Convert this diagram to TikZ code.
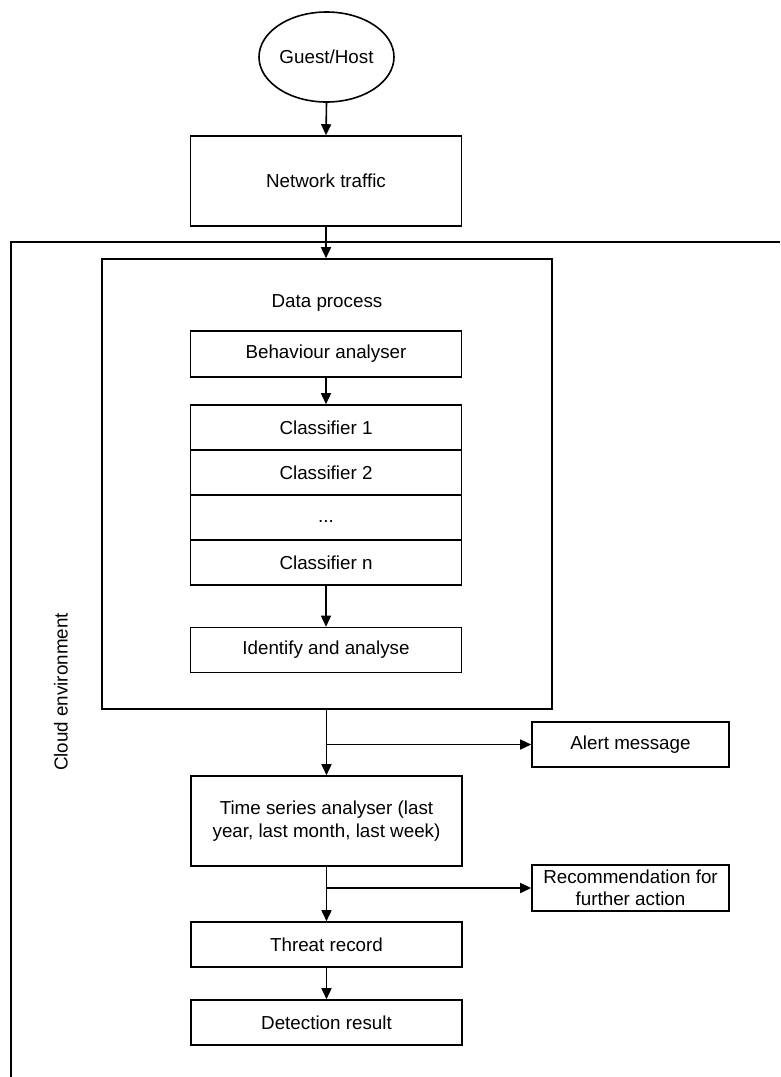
\documentclass[tikz,border=0pt]{standalone}
\usepackage{fontspec}
\setmainfont{Liberation Sans}
\usetikzlibrary{arrows.meta,shapes.geometric}
\begin{document}
\begin{tikzpicture}[x=1pt,y=-1pt,
  line width=1.6pt,
  every node/.style={font=\fontsize{18.8}{22.5}\selectfont, inner sep=0pt},
  box/.style={draw, rectangle, minimum width=271pt, minimum height=45pt, align=center},
  sidebox/.style={draw, rectangle, minimum width=197pt, minimum height=45pt, align=center},
  arr/.style={-{Triangle[length=11pt,width=10pt]}}
]
\useasboundingbox (0,0) rectangle (780,1077);
% cloud environment frame
\coordinate (fr) at (780,242);
\coordinate (fc) at (11,242);
\coordinate (fb) at (11,1077);
\draw (fr) -- (fc) -- (fb);
\node[rotate=90] (cloud) at (61,692) {Cloud environment};

\node[draw, ellipse, minimum width=135pt, minimum height=90pt] (guest) at (326.5,57) {Guest/Host};
\node[box, minimum height=90pt] (net) at (326,181) {Network traffic};

\node[draw, rectangle, minimum width=450pt, minimum height=450pt] (dp) at (327,484) {};
\node (dplabel) at (327,303) {Data process};
\node[box, minimum height=46pt] (beh) at (326,354) {Behaviour analyser};
\node[box] (c1) at (326,427.5) {Classifier 1};
\node[box] (c2) at (326,472.5) {Classifier 2};
\node[box] (cd) at (326,517.5) {\strut...};
\node[box] (cn) at (326,562.5) {Classifier n};
\node[box] (ident) at (326,650) {Identify and analyse};

\node[sidebox] (alert) at (630.5,744.5) {Alert message};
\node[box, minimum height=90pt] (ts) at (326.5,821) {Time series analyser (last\\year, last month, last week)};
\node[sidebox, minimum height=46pt] (rec) at (630.5,888) {Recommendation for\\further action};
\node[box] (threat) at (326.5,944.5) {Threat record};
\node[box] (det) at (326.5,1022.5) {Detection result};

\draw[arr] (guest.south) -- (net.north);
\draw[arr] (net.south) -- (net.south |- dp.north);
\draw[arr] (beh.south) -- (c1.north);
\draw[arr] (cn.south) -- (ident.north);
\draw[arr] (dp.south -| ts.north) -- (ts.north);
\coordinate (j1) at (ts.north |- alert.west);
\draw[arr] (j1) -- (alert.west);
\draw[arr] (ts.south) -- (threat.north);
\coordinate (j2) at (ts.south |- rec.west);
\draw[arr] (j2) -- (rec.west);
\draw[arr] (threat.south) -- (det.north);
\end{tikzpicture}
\end{document}
